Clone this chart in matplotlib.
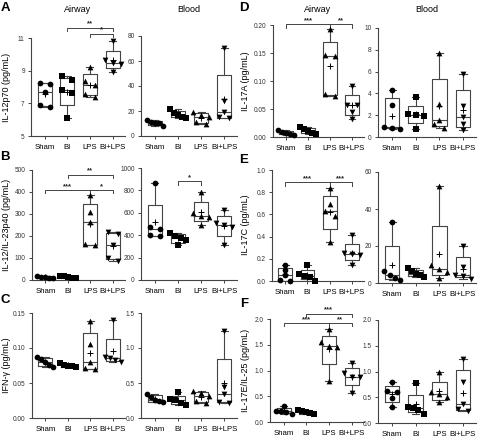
import numpy as np
import matplotlib
matplotlib.use("Agg")
import matplotlib.pyplot as plt

plt.rcParams['font.family'] = ['Liberation Sans', 'DejaVu Sans']

groups = ['Sham', 'BI', 'LPS', 'BI+LPS']
markers = ['o', 's', '^', 'v']

# valeurs (5 animaux par groupe)
a_airway = [[8.25, 8.2, 7.7, 6.88, 6.78], [8.65, 8.4, 7.8, 7.65, 6.1],
            [9.2, 8.35, 8.15, 7.6, 7.4], [10.8, 9.65, 9.45, 9.4, 8.9]]
a_blood = [[13, 11.5, 10.5, 10, 8], [21.5, 18, 16.5, 15.5, 14.5],
           [19.5, 17, 15, 11, 9.5], [70, 28, 19.5, 15, 14]]
b_airway = [[18, 15, 12, 10, 7], [19, 16, 13, 10, 8],
            [385, 310, 265, 162, 158], [218, 210, 158, 100, 88]]
b_blood = [[866, 470, 455, 400, 390], [420, 395, 375, 355, 310],
           [790, 600, 575, 560, 490], [625, 510, 495, 470, 310]]
c_airway = [[0.087, 0.085, 0.080, 0.076, 0.073], [0.078, 0.076, 0.075, 0.074, 0.073],
            [0.138, 0.106, 0.080, 0.071, 0.070], [0.14, 0.087, 0.086, 0.083, 0.080]]
c_blood = [[0.35, 0.30, 0.26, 0.24, 0.23], [0.37, 0.27, 0.26, 0.21, 0.19],
           [0.38, 0.36, 0.32, 0.25, 0.22], [1.25, 0.45, 0.34, 0.23, 0.22]]
d_airway = [[0.012, 0.009, 0.007, 0.006, 0.004], [0.018, 0.014, 0.010, 0.008, 0.006],
            [0.193, 0.147, 0.145, 0.076, 0.074], [0.091, 0.058, 0.057, 0.045, 0.032]]
d_blood = [[4.3, 2.9, 0.9, 0.85, 0.75], [3.7, 2.07, 2.0, 1.9, 0.76],
           [7.7, 3.0, 1.6, 1.15, 0.85], [5.8, 2.8, 1.85, 1.2, 0.6]]
e_airway = [[0.145, 0.095, 0.05, 0.005, 0.0], [0.145, 0.06, 0.045, 0.04, 0.0],
            [0.84, 0.69, 0.63, 0.59, 0.35], [0.415, 0.25, 0.24, 0.23, 0.14]]
e_blood = [[33, 6.5, 4.5, 2.5, 1.5], [8, 6.5, 5, 4.5, 3.5],
           [52.5, 9.5, 7.5, 6, 2.5], [20, 8.5, 4.5, 4, 2]]
f_airway = [[0.32, 0.22, 0.21, 0.19, 0.15], [0.23, 0.21, 0.19, 0.18, 0.15],
            [1.8, 1.55, 1.48, 1.45, 0.8], [1.15, 0.95, 0.88, 0.87, 0.56]]
f_blood = [[0.8, 0.62, 0.6, 0.48, 0.32], [0.77, 0.32, 0.3, 0.25, 0.17],
           [1.0, 0.6, 0.57, 0.5, 0.4], [1.25, 0.8, 0.36, 0.27, 0.23]]

# tests statistiques : (groupe1, groupe2, hauteur, texte)
a_sig = [(1, 3, 11.62, '**'), (2, 3, 11.25, '*')]
b_sig = [(0, 2, 409, '***'), (2, 3, 409, '*'), (1, 3, 478, '**')]
b_blood_sig = [(1, 2, 880, '*')]
d_sig = [(0, 2, 0.201, '***'), (2, 3, 0.201, '**')]
e_sig = [(0, 2, 0.89, '***'), (2, 3, 0.89, '***')]
f_sig = [(0, 2, 1.92, '***'), (2, 3, 1.92, '**'), (1, 3, 2.1, '***')]

W, H = 480, 440
fig = plt.figure(figsize=(W / 100, H / 100), dpi=100)
GRAY = '#444444'


def make_ax(l, t, r, b):
    return fig.add_axes([l / W, 1 - b / H, (r - l) / W, (b - t) / H])


def swarm_offsets(vals, px_per_y, px_per_x):
    # écarte les points qui se chevauchent, comme Prism
    vals = np.asarray(vals, float)
    order = np.argsort(-vals)
    ypx = vals[order] * px_per_y
    clusters, cur = [], [order[0]]
    for k in range(1, len(order)):
        if abs(ypx[k] - ypx[k - 1]) < 4.5:
            cur.append(order[k])
        else:
            clusters.append(cur)
            cur = [order[k]]
    clusters.append(cur)
    off = np.zeros(len(vals))
    for c in clusters:
        n = len(c)
        if n == 1:
            continue
        span = min(10 * (n - 1), 16)
        pos = np.linspace(-span / 2, span / 2, n)
        for idx, p in zip(c, pos):
            off[idx] = p / px_per_x
    return off


def panel(rect, data, ylim, yticks, fmt, sig=None):
    ax = make_ax(*rect)
    xlim = (-0.6, 3.55)
    ax.set_xlim(*xlim)
    ax.set_ylim(*ylim)
    stats = []
    for vals in data:
        q1, med, q3 = np.percentile(vals, [25, 50, 75], method='weibull')
        stats.append(dict(med=med, q1=q1, q3=q3, whislo=min(vals), whishi=max(vals),
                          mean=np.mean(vals), fliers=[]))
    lp = dict(color=GRAY, lw=0.8)
    ax.bxp(stats, positions=range(4), widths=0.62, showmeans=True, showfliers=False,
           capwidths=0.3, boxprops=lp, whiskerprops=lp, capprops=lp, medianprops=lp,
           meanprops=dict(marker='+', markeredgecolor='k', markersize=4, markeredgewidth=0.7))
    px_y = (rect[3] - rect[1]) / (ylim[1] - ylim[0])
    px_x = (rect[2] - rect[0]) / (xlim[1] - xlim[0])
    for i, vals in enumerate(data):
        off = swarm_offsets(vals, px_y, px_x)
        ax.scatter(i + off, vals, marker=markers[i], s=17, color='k', zorder=3,
                   linewidths=0, clip_on=False)
    ax.set_xticks(range(4))
    ax.set_xticklabels(groups, fontsize=5.6)
    ax.set_yticks(yticks)
    ax.set_yticklabels([fmt.format(v) for v in yticks], fontsize=4.7, color='#333333')
    ax.tick_params(length=2.5, width=0.7, color=GRAY, pad=2)
    ax.tick_params(axis='x', pad=3)
    for s in ['top', 'right']:
        ax.spines[s].set_visible(False)
    for s in ['left', 'bottom']:
        ax.spines[s].set_color(GRAY)
        ax.spines[s].set_linewidth(0.8)
    if sig:
        rng = ylim[1] - ylim[0]
        for g1, g2, y, txt in sig:
            h = 0.03 * rng
            ax.plot([g1, g1, g2, g2], [y - h, y, y, y - h], color=GRAY, lw=0.7, clip_on=False)
            ax.text((g1 + g2) / 2, y + 0.002 * rng, txt, ha='center', va='bottom',
                    fontsize=5.5, fontweight='bold', color='#222222')
    return ax


# ligne du haut
panel((31, 38, 125, 136), a_airway, (5, 11), [5, 7, 9, 11], '{:g}', a_sig)
panel((141, 36, 237, 136), a_blood, (0, 80), [0, 20, 40, 60, 80], '{:g}')
panel((273, 25, 364, 137), d_airway, (0, 0.2), [0, 0.05, 0.10, 0.15, 0.20], '{:.2f}', d_sig)
panel((378, 28, 476, 137), d_blood, (0, 10), [0, 2, 4, 6, 8, 10], '{:g}')
# ligne du milieu
panel((32, 170, 125, 280), b_airway, (0, 500), [0, 100, 200, 300, 400, 500], '{:g}', b_sig)
panel((141, 168, 237, 280), b_blood, (0, 1000), [0, 200, 400, 600, 800, 1000], '{:g}', b_blood_sig)
panel((272, 170, 364, 281), e_airway, (0, 1.0), [0, 0.2, 0.4, 0.6, 0.8, 1.0], '{:.1f}', e_sig)
panel((378, 172, 476, 283), e_blood, (0, 60), [0, 20, 40, 60], '{:g}')
# ligne du bas
panel((32, 313, 125, 418), c_airway, (0, 0.15), [0, 0.05, 0.10, 0.15], '{:.2f}')
panel((141, 313, 237, 418), c_blood, (0, 1.5), [0, 0.5, 1.0, 1.5], '{:.1f}')
panel((270, 319, 364, 422), f_airway, (0, 2.0), [0, 0.5, 1.0, 1.5, 2.0], '{:.1f}', f_sig)
panel((378, 320, 476, 423), f_blood, (0, 2.0), [0, 0.5, 1.0, 1.5, 2.0], '{:.1f}')

# titres, lettres et étiquettes
for x, t in [(78, 'Airway'), (189, 'Blood'), (318, 'Airway'), (427, 'Blood')]:
    fig.text(x / W, 1 - 9 / H, t, ha='center', va='center', fontsize=6.5)
for x, y, t in [(5, 8, 'A'), (5, 157, 'B'), (5, 300, 'C'),
                (244, 8, 'D'), (244, 160, 'E'), (244, 304, 'F')]:
    fig.text(x / W, 1 - y / H, t, ha='center', va='center', fontsize=9.5, fontweight='bold')
for x, y, t in [(7, 87, 'IL-12p70 (pg/mL)'), (7, 225, 'IL-12/IL-23p40 (pg/mL)'),
                (7, 365, 'IFN-γ (pg/mL)'), (246, 81, 'IL-17A (pg/mL)'),
                (246, 225, 'IL-17C (pg/mL)'), (246, 370, 'IL-17E/IL-25 (pg/mL)')]:
    fig.text(x / W, 1 - y / H, t, ha='center', va='center', rotation=90, fontsize=6.5)

fig.savefig('out.png', dpi=100)
